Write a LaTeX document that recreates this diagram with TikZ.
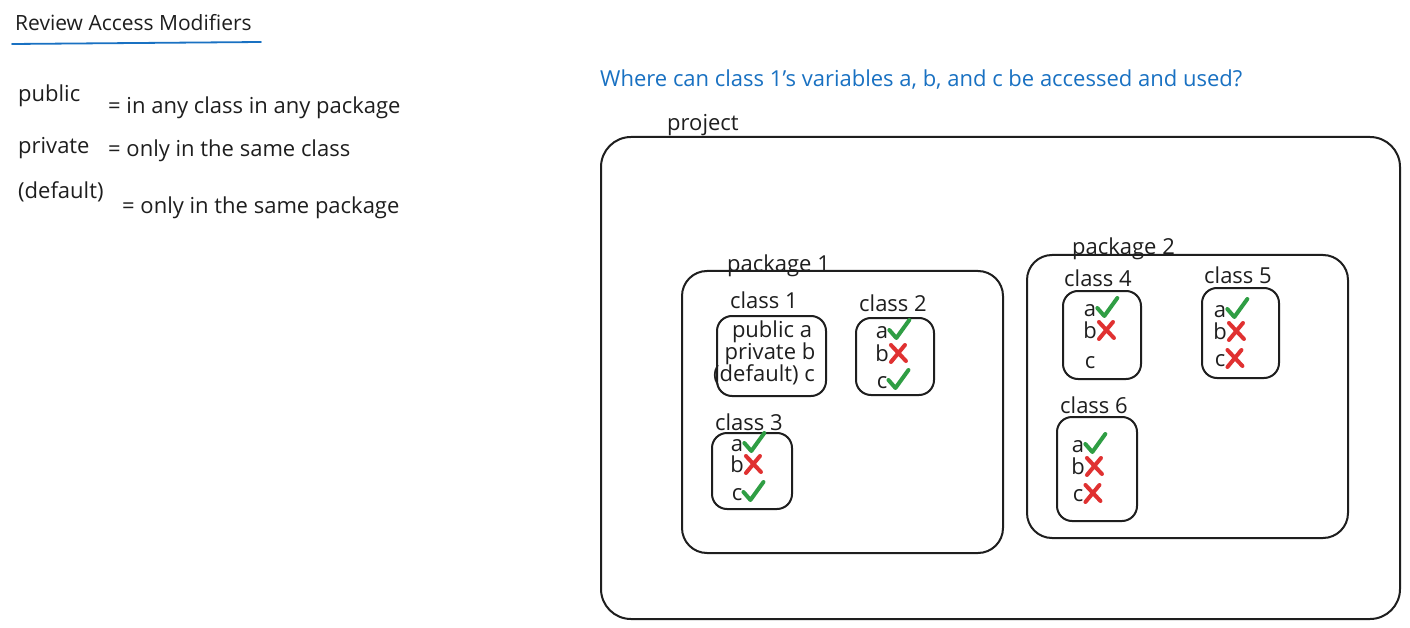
\documentclass[tikz,border=0pt]{standalone}
\usepackage{fontspec}
\setmainfont{Open Sans}
\usetikzlibrary{positioning}

\definecolor{inkblack}{HTML}{1E1E1E}
\definecolor{inkblue}{HTML}{1971C2}
\definecolor{inkgreen}{HTML}{2F9E44}
\definecolor{inkred}{HTML}{E03131}

\tikzset{
  txt/.style={inner sep=0pt,text height=19pt,text depth=2pt,font=\fontsize{22}{26}\selectfont,text=inkblack},
  box/.style={draw=inkblack,line width=2pt,rounded corners=15pt},
  okline/.style={draw=inkgreen,line width=4pt,line cap=round,line join=round},
  noline/.style={draw=inkred,line width=4pt,line cap=round},
}
\newcommand{\okmark}[1]{\draw[okline] ([xshift=1pt]#1.east) -- ++(7,8) -- ++(13,-18);}
\newcommand{\nomark}[1]{\draw[noline] ([shift={(2,-8)}]#1.east) -- ++(15,16) ([shift={(16,-8)}]#1.east) -- ++(-14,17);}

\begin{document}
\begin{tikzpicture}[x=1pt,y=-1pt]
\useasboundingbox[fill=white] (0,0) rectangle (1410,628);

% legend
\node[txt,anchor=west,font=\fontsize{21}{25}\selectfont] (title) at (15,22) {Review Access Modifiers};
\coordinate (ul1) at (12,44);
\coordinate (ul2) at (261,42);
\draw[inkblue,line width=1.8pt,line cap=round] (ul1) -- (ul2);

\node[txt,anchor=west] (pub) at (18,93) {public};
\node[txt,anchor=west] (pubdef) at (108,105) {= in any class in any package};
\node[txt,anchor=west] (priv) at (18,145) {private};
\node[txt,anchor=west] (privdef) at (108,148) {= only in the same class};
\node[txt,anchor=west] (dflt) at (18,190) {(default)};
\node[txt,anchor=west] (dfltdef) at (122,205) {= only in the same package};

% question
\node[txt,anchor=west,text=inkblue] (quest) at (600,78) {Where can class 1's variables a, b, and c be accessed and used?};

% project
\node[txt,anchor=west] (projlbl) at (667,122) {project};
\draw[box,rounded corners=30pt] (601,137) rectangle (1400,619);

% package 1
\node[txt,anchor=west] (pk1lbl) at (727,263) {package 1};
\draw[box,rounded corners=25pt] (682,271) rectangle (1003,553);

\node[txt,anchor=west] (c1lbl) at (730,300) {class 1};
\draw[box] (717,316) rectangle (826,396);
\node[txt] (c1a) at (772,329) {public a};
\node[txt] (c1b) at (770,351) {private b};
\node[txt] (c1c) at (764,373) {(default) c};

\node[txt,anchor=west] (c2lbl) at (859,303) {class 2};
\draw[box] (856,318) rectangle (934,395);
\node[txt] (c2a) at (882,330) {a};
\node[txt] (c2b) at (882,353) {b};
\node[txt] (c2c) at (882,380) {c};
\okmark{c2a}
\nomark{c2b}
\okmark{c2c}

\node[txt,anchor=west] (c3lbl) at (715,422) {class 3};
\draw[box] (712,433) rectangle (792,509);
\node[txt] (c3a) at (737,443) {a};
\node[txt] (c3b) at (737,464) {b};
\node[txt] (c3c) at (737,492) {c};
\okmark{c3a}
\nomark{c3b}
\okmark{c3c}

% package 2
\node[txt,anchor=west] (pk2lbl) at (1072,246) {package 2};
\draw[box,rounded corners=25pt] (1027,255) rectangle (1348,538);

\node[txt,anchor=west] (c4lbl) at (1064,278) {class 4};
\draw[box] (1063,291) rectangle (1141,379);
\node[txt] (c4a) at (1090,308) {a};
\node[txt] (c4b) at (1090,330) {b};
\node[txt] (c4c) at (1090,360) {c};
\okmark{c4a}
\nomark{c4b}

\node[txt,anchor=west] (c5lbl) at (1204,275) {class 5};
\draw[box] (1202,288) rectangle (1279,378);
\node[txt] (c5a) at (1220,309) {a};
\node[txt] (c5b) at (1220,331) {b};
\node[txt] (c5c) at (1220,358) {c};
\okmark{c5a}
\nomark{c5b}
\nomark{c5c}

\node[txt,anchor=west] (c6lbl) at (1060,405) {class 6};
\draw[box] (1057,417) rectangle (1137,521);
\node[txt] (c6a) at (1078,444) {a};
\node[txt] (c6b) at (1078,466) {b};
\node[txt] (c6c) at (1078,493) {c};
\okmark{c6a}
\nomark{c6b}
\nomark{c6c}

\end{tikzpicture}
\end{document}
